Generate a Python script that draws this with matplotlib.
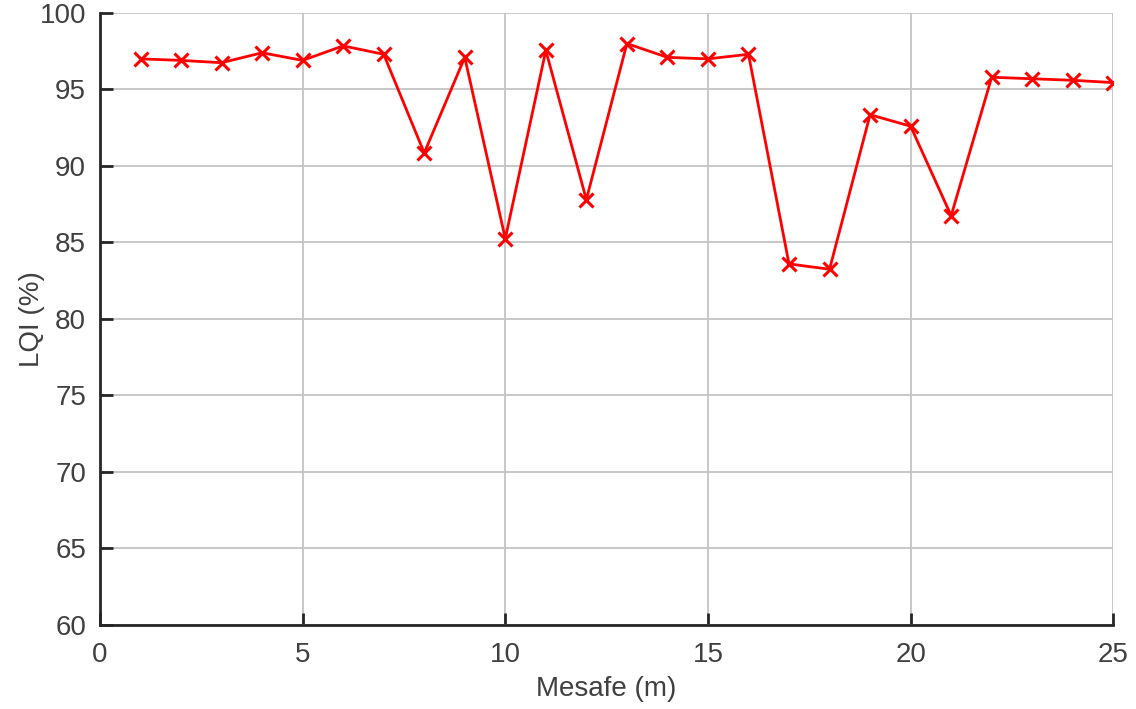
import matplotlib
matplotlib.use('Agg')
import matplotlib.pyplot as plt

# distance (m) and LQI (%)
mesafe = list(range(1, 26))
lqi = [97.0, 96.9, 96.75, 97.4, 96.9, 97.85, 97.3, 90.85, 97.1, 85.25,
       97.55, 87.8, 98.0, 97.1, 97.0, 97.3, 83.6, 83.25, 93.35, 92.6,
       86.75, 95.8, 95.7, 95.6, 95.45]

xticks = [0, 5, 10, 15, 20, 25]
yticks = list(range(60, 101, 5))

plt.rcParams['font.family'] = ['Liberation Sans', 'DejaVu Sans']

fig = plt.figure(figsize=(11.36, 7.09), dpi=100)
ax = fig.add_axes([0.088, 0.1185, 0.892, 0.8632])

ax.plot(mesafe, lqi, color='red', lw=2, marker='x', ms=10, mew=2.2)

ax.set_xlim(0, 25)
ax.set_ylim(60, 100)
ax.set_xticks(xticks)
ax.set_yticks(yticks)
ax.grid(True, color='#c4c4c4', lw=1.3)
ax.set_axisbelow(True)

for s in ['top', 'right']:
    ax.spines[s].set_visible(False)
for s in ['left', 'bottom']:
    ax.spines[s].set_linewidth(2)
    ax.spines[s].set_color('#262626')

ax.tick_params(direction='in', length=9, width=2, color='#262626',
               labelsize=20, labelcolor='#404040')
ax.tick_params(axis='x', pad=12)
ax.tick_params(axis='y', pad=10)
ax.set_xlabel('Mesafe (m)', fontsize=20, color='#404040', labelpad=6)
ax.set_ylabel('LQI (%)', fontsize=20, color='#404040', labelpad=-4)

fig.savefig('out.png', dpi=100)
